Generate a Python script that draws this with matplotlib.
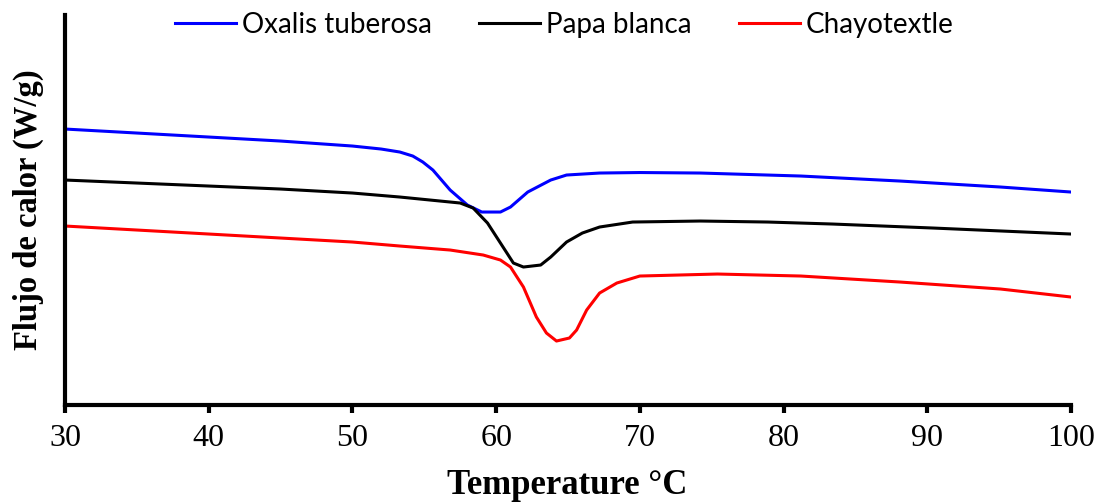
import matplotlib
matplotlib.use("Agg")
import matplotlib.pyplot as plt

# temperatures (°C) and heat flow (arbitrary offset, W/g)
t_oxalis = [30, 35, 40, 45, 50, 52, 53.3, 54.2, 54.9, 55.6, 56.8, 58.0, 59.0, 60.3, 61.0,
            62.2, 63.8, 64.9, 67.2, 70, 74.2, 81.2, 88.1, 95.1, 100]
q_oxalis = [2.76, 2.72, 2.68, 2.64, 2.59, 2.56, 2.53, 2.49, 2.43, 2.35, 2.15, 2.00, 1.93, 1.93, 1.98,
            2.13, 2.25, 2.30, 2.32, 2.325, 2.32, 2.29, 2.24, 2.18, 2.13]

t_papa = [30, 35, 40, 45, 50, 53.3, 57.5, 58.4, 59.4, 60.3, 61.2, 61.9, 63.1, 63.8,
          64.9, 66.0, 67.2, 69.5, 74.2, 78.9, 83.4, 90.4, 100]
q_papa = [2.25, 2.22, 2.19, 2.16, 2.12, 2.08, 2.02, 1.97, 1.82, 1.62, 1.42, 1.38, 1.40, 1.48,
          1.63, 1.72, 1.78, 1.83, 1.84, 1.83, 1.81, 1.77, 1.71]

t_chayo = [30, 35, 40, 45, 50, 53.3, 56.8, 59.1, 60.3, 61.0, 61.9, 62.8, 63.5, 64.2, 65.1,
           65.6, 66.3, 67.2, 68.4, 70.0, 75.4, 81.2, 88.1, 95.1, 100]
q_chayo = [1.79, 1.75, 1.71, 1.67, 1.63, 1.59, 1.55, 1.50, 1.45, 1.38, 1.18, 0.88, 0.72, 0.64, 0.67,
           0.75, 0.95, 1.12, 1.22, 1.29, 1.31, 1.29, 1.23, 1.16, 1.08]

labels = ["Oxalis tuberosa", "Papa blanca", "Chayotextle"]
x_ticks = [30, 40, 50, 60, 70, 80, 90, 100]

fig = plt.figure(figsize=(11, 5.03), dpi=100)
ax = fig.add_axes([0.0591, 0.1948, 0.9145, 0.7753])

lw = 2.2
ax.plot(t_oxalis, q_oxalis, color="#0000ff", linewidth=lw, label=labels[0])
ax.plot(t_papa, q_papa, color="black", linewidth=lw, label=labels[1])
ax.plot(t_chayo, q_chayo, color="#ff0000", linewidth=lw, label=labels[2])

ax.set_xlim(30, 100)
ax.set_ylim(0, 3.9)
ax.set_xticks(x_ticks)
ax.set_yticks([])

ax.spines["top"].set_visible(False)
ax.spines["right"].set_visible(False)
ax.spines["left"].set_linewidth(3)
ax.spines["bottom"].set_linewidth(3)
ax.tick_params(axis="x", direction="out", length=6, width=3, pad=8)
for lab in ax.get_xticklabels():
    lab.set_fontfamily("Liberation Serif")
    lab.set_fontsize(23)

leg = fig.legend(loc="center", bbox_to_anchor=(0.513, 0.950), ncol=3, frameon=False,
                 prop={"family": "Lato", "size": 20}, handlelength=2.2,
                 handletextpad=0.22, columnspacing=1.7)

fig.text(567 / 1100, 1 - 486 / 503, "Temperature °C", ha="center", va="center",
         family="Liberation Serif", weight="bold", fontsize=25)
fig.text(28 / 1100, 1 - 210 / 503, "Flujo de calor (W/g)", ha="center", va="center",
         rotation=90, family="Liberation Serif", weight="bold", fontsize=23.5)

fig.savefig("out.png", dpi=100)
